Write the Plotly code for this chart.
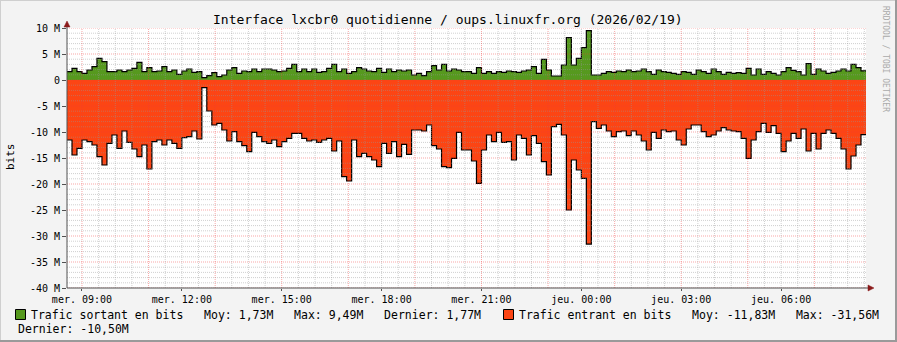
import plotly.graph_objects as go

# ---------------- data (Mbit/s, one value per 9-minute step) ----------------
START_HOUR = 8.55          # 08:33 on Wednesday
STEP_HOURS = 0.15          # 9 minutes

sortant = [
    1.6, 2.24, 1.6, 1.28, 1.92, 2.56, 4.17, 3.53, 1.6, 1.6, 1.92, 1.6, 1.92, 2.24, 3.4, 1.6,
    2.37, 1.6, 1.73, 2.56, 1.6, 1.92, 1.09, 1.73, 2.12, 1.47, 1.6, 0.45, 0.83, 1.41, 0.64, 0.96,
    1.92, 2.37, 1.28, 1.73, 1.6, 2.12, 1.6, 2.12,
    2.12, 1.92, 1.6, 1.73, 2.24, 3.01, 1.6, 2.12, 1.6, 2.12, 1.47, 1.6, 2.24, 3.01, 1.6, 2.12,
    1.28, 1.6, 2.37, 2.12, 1.73, 1.6, 2.24, 1.47, 2.12, 1.6, 1.92, 1.73, 1.92, 0.96, 1.28, 0.83,
    1.6, 2.76, 1.92, 3.01, 1.73, 2.12, 1.92, 1.6,
    1.6, 1.28, 2.37, 1.28, 1.6, 1.28, 1.6, 1.47, 1.73, 1.6, 1.47, 1.73, 1.92, 2.56, 1.28, 3.97,
    1.92, 0.77, 0.77, 2.88, 8.14, 2.88, 4.17, 6.22, 9.49, 0.96, 0.96, 1.28, 1.6, 1.47, 1.73, 1.6,
    1.92, 1.6, 1.73, 2.12, 1.6, 1.09, 1.92, 1.6,
    1.47, 1.28, 1.09, 1.6, 1.47, 1.09, 1.92, 1.6, 1.28, 2.12, 1.6, 1.09, 1.47, 1.28, 1.41, 1.28,
    2.24, 0.96, 2.12, 1.09, 1.6, 1.28, 0.96, 1.6, 2.37, 1.86, 1.6, 0.96, 3.14, 1.09, 2.12, 1.73,
    1.28, 1.47, 1.73, 2.12, 1.73, 3.01, 2.37, 1.77,
]

entrant = [
    -11.54, -14.42, -13.14, -11.54, -11.86, -12.5, -14.74, -16.35, -12.18, -10.58, -13.14, -9.81,
    -11.99, -13.27, -14.74, -12.5, -17.12, -11.86, -11.54, -12.5, -11.54, -12.18, -13.14, -11.09,
    -10.9, -9.81, -11.35, -1.47, -5.96, -8.65, -8.33, -9.62, -11.73, -9.94, -11.86, -12.63,
    -13.78, -10.06, -10.9, -11.86,
    -12.18, -11.54, -12.82, -11.86, -11.22, -10.26, -10.26, -11.22, -11.73, -11.54, -11.99, -11.54,
    -11.22, -13.65, -11.73, -18.59, -19.42, -11.54, -14.74, -14.1, -14.74, -15.38, -16.67, -12.18,
    -14.1, -11.86, -14.74, -12.37, -14.29, -9.62, -9.62, -9.81, -8.65, -12.63, -13.27, -16.67,
    -16.86, -15.06, -10.06, -13.46,
    -13.46, -15.58, -19.87, -13.46, -10.58, -11.86, -10.06, -11.99, -11.86, -15.38, -10.58, -11.22,
    -14.42, -10.71, -12.18, -15.71, -18.27, -8.97, -8.53, -10.58, -25.0, -15.38, -17.31, -18.91,
    -31.56, -8.01, -9.29, -8.65, -9.81, -10.9, -9.94, -9.81, -10.71, -9.81, -10.58, -11.73,
    -13.46, -10.06, -11.22, -9.62,
    -9.94, -9.81, -11.54, -12.5, -9.42, -8.65, -8.65, -9.94, -10.9, -10.58, -9.81, -9.17,
    -9.62, -9.81, -9.94, -11.22, -15.06, -11.54, -9.94, -8.33, -10.06, -8.78, -10.26, -13.78,
    -11.73, -10.26, -11.22, -9.42, -13.65, -10.26, -13.27, -10.26, -9.62, -10.26, -11.22, -13.27,
    -17.12, -14.62, -12.5, -10.5,
]

x_tick_hours = [9, 12, 15, 18, 21, 24, 27, 30]
x_tick_labels = ["mer. 09:00", "mer. 12:00", "mer. 15:00", "mer. 18:00",
                 "mer. 21:00", "jeu. 00:00", "jeu. 03:00", "jeu. 06:00"]
y_tick_values = [10, 5, 0, -5, -10, -15, -20, -25, -30, -35, -40]
y_tick_labels = ["10 M", "5 M", "0", "-5 M", "-10 M", "-15 M", "-20 M",
                 "-25 M", "-30 M", "-35 M", "-40 M"]

title_text = "Interface lxcbr0 quotidienne / oups.linuxfr.org (2026/02/19)"
legend_out = "Trafic sortant en bits   Moy: 1,73M   Max: 9,49M   Dernier: 1,77M"
legend_in = "Trafic entrant en bits   Moy: -11,83M   Max: -31,56M"
legend_in_2 = "Dernier: -10,50M"

# ---------------- layout constants ----------------
W, H = 897, 342
L, R, T, B = 67, 31, 28, 54
PW, PH = W - L - R, H - T - B
MONO = "DejaVu Sans Mono"
GREEN = "#56991E"
ORANGE = "#FC4514"
X0, X1 = START_HOUR, START_HOUR + STEP_HOURS * len(sortant)
Y0, Y1 = -40, 10


def px(x):
    return (x - L) / PW


def py(y):
    return (H - B - y) / PH


n = len(sortant)
xs = [START_HOUR + STEP_HOURS * i for i in range(n + 1)]

fig = go.Figure()
fig.add_trace(go.Scatter(x=xs, y=sortant + [sortant[-1]], mode="lines", line_shape="hv",
                         line=dict(color="black", width=1.2), fill="tozeroy",
                         fillcolor=GREEN, hoverinfo="skip", showlegend=False))
fig.add_trace(go.Scatter(x=xs, y=entrant + [entrant[-1]], mode="lines", line_shape="hv",
                         line=dict(color="black", width=1.2), fill="tozeroy",
                         fillcolor=ORANGE, hoverinfo="skip", showlegend=False))

shapes = []
MINOR = "rgba(150,150,150,0.45)"
MAJOR = "rgba(240,60,60,0.45)"
# horizontal grid every 1M, major every 5M
for v in range(Y0, Y1 + 1):
    shapes.append(dict(type="line", xref="x", yref="y", x0=X0, x1=X1, y0=v, y1=v,
                       layer="above",
                       line=dict(color=MAJOR if v % 5 == 0 else MINOR, width=1, dash="1px,1px")))
# vertical grid every 30 min, major every 2h (odd hours)
h = 9.0
while h <= X1 + 1e-9:
    major = abs(h - round(h)) < 1e-9 and int(round(h)) % 2 == 1
    shapes.append(dict(type="line", xref="x", yref="y", x0=h, x1=h, y0=Y0, y1=Y1,
                       layer="above",
                       line=dict(color=MAJOR if major else MINOR, width=1, dash="1px,1px")))
    h += 0.5

# axes lines and arrows
AX = "#505050"
ARROW = "#8B1A1A"
shapes.append(dict(type="line", xref="paper", yref="paper", x0=0, x1=0, y0=0, y1=py(25),
                   line=dict(color=AX, width=1), layer="above"))
shapes.append(dict(type="line", xref="paper", yref="paper", x0=0, x1=px(870), y0=0, y1=0,
                   line=dict(color=AX, width=1), layer="above"))
shapes.append(dict(type="path", xref="paper", yref="paper",
                   path=f"M {px(64)},{py(27)} L {px(70)},{py(27)} L {px(67)},{py(21)} Z",
                   fillcolor=ARROW, line=dict(color=ARROW, width=0.5), layer="above"))
shapes.append(dict(type="path", xref="paper", yref="paper",
                   path=f"M {px(868)},{py(285)} L {px(868)},{py(291)} L {px(874)},{py(288)} Z",
                   fillcolor=ARROW, line=dict(color=ARROW, width=0.5), layer="above"))
# legend swatches
shapes.append(dict(type="rect", xref="paper", yref="paper", x0=px(15.5), x1=px(25.5),
                   y0=py(319.5), y1=py(309.5), fillcolor=GREEN, line=dict(color="black", width=1)))
shapes.append(dict(type="rect", xref="paper", yref="paper", x0=px(503.5), x1=px(513.5),
                   y0=py(319.5), y1=py(309.5), fillcolor=ORANGE, line=dict(color="black", width=1)))
# image frame
shapes.append(dict(type="line", xref="paper", yref="paper", x0=px(0), x1=px(W), y0=py(0.5), y1=py(0.5),
                   line=dict(color="#CFCFCF", width=1)))
shapes.append(dict(type="line", xref="paper", yref="paper", x0=px(0.5), x1=px(0.5), y0=py(0), y1=py(H),
                   line=dict(color="#CFCFCF", width=1)))
shapes.append(dict(type="line", xref="paper", yref="paper", x0=px(0), x1=px(W), y0=py(H - 1), y1=py(H - 1),
                   line=dict(color="#9A9A9A", width=2)))
shapes.append(dict(type="line", xref="paper", yref="paper", x0=px(W - 1), x1=px(W - 1), y0=py(0), y1=py(H),
                   line=dict(color="#9A9A9A", width=2)))

annotations = [
    dict(text=title_text, xref="paper", yref="paper", x=px(448), y=py(19.5), showarrow=False,
         xanchor="center", yanchor="middle", font=dict(family=MONO, size=13, color="black")),
    dict(text="bits", xref="paper", yref="paper", x=px(10), y=py(157), showarrow=False,
         textangle=-90, xanchor="center", yanchor="middle",
         font=dict(family=MONO, size=11, color="black")),
    dict(text="RRDTOOL / TOBI OETIKER", xref="paper", yref="paper", x=px(886), y=py(59),
         showarrow=False, textangle=90, xanchor="center", yanchor="middle",
         font=dict(family=MONO, size=8, color="#AAAAAA")),
    dict(text=legend_out.replace(" ", "&nbsp;"), xref="paper", yref="paper", x=px(29), y=py(314.5),
         showarrow=False, xanchor="left", yanchor="middle",
         font=dict(family=MONO, size=11.5, color="black")),
    dict(text=legend_in.replace(" ", "&nbsp;"), xref="paper", yref="paper", x=px(517), y=py(314.5),
         showarrow=False, xanchor="left", yanchor="middle",
         font=dict(family=MONO, size=11.5, color="black")),
    dict(text=legend_in_2.replace(" ", "&nbsp;"), xref="paper", yref="paper", x=px(16), y=py(328.5),
         showarrow=False, xanchor="left", yanchor="middle",
         font=dict(family=MONO, size=11.5, color="black")),
]

fig.update_layout(
    width=W, height=H, margin=dict(l=L, r=R, t=T, b=B),
    paper_bgcolor="#F3F3F3", plot_bgcolor="white",
    showlegend=False, shapes=shapes, annotations=annotations,
    xaxis=dict(range=[X0, X1], showgrid=False, zeroline=False, showline=False,
               tickvals=x_tick_hours, ticktext=x_tick_labels, ticks="outside", ticklen=2,
               tickcolor=AX, tickfont=dict(family=MONO, size=10, color="black"), fixedrange=True),
    yaxis=dict(range=[Y0, Y1], showgrid=False, zeroline=False, showline=False,
               tickvals=y_tick_values, ticktext=y_tick_labels, ticks="outside", ticklen=4,
               tickcolor=AX, tickfont=dict(family=MONO, size=10, color="black"), fixedrange=True),
)

fig.write_html("out.html")
